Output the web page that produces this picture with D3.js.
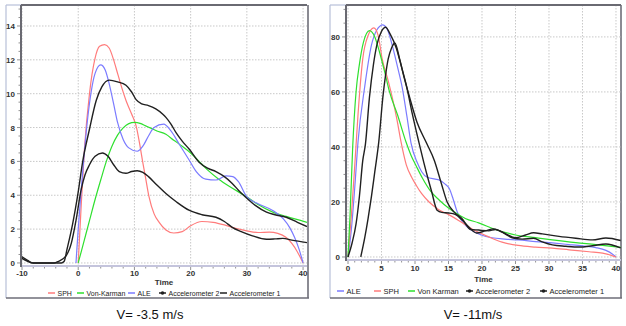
<!DOCTYPE html>
<html>
<head>
<meta charset="utf-8">
<script src="https://cdn.jsdelivr.net/npm/d3@7"></script>
<style>
  body { margin: 0; background: #fff; }
  svg { display: block; font-family: "Liberation Sans", Arial, sans-serif; }
  .grid line { stroke: #c8c8c8; stroke-dasharray: 1.5,1.5; stroke-width: 1; }
  .tick-label { font-size: 8px; font-weight: bold; fill: #333; }
  .legend text { fill: #222; }
</style>
</head>
<body>
<svg width="626" height="326"></svg>
<script>
// ---- data: V = -3.5 m/s (time, value) ----
var sph35 = [[0,0],[0.5,3.2],[1.1,6.7],[2,10],[3,12.1],[3.8,12.8],[4.7,12.9],[5.5,12.7],[6.3,12.0],[7,11.2],
  [7.8,10.3],[8.5,9.6],[9.5,8.8],[10.3,8.1],[11,6.9],[11.4,6.1],[12,5.0],[12.6,3.9],[13.5,2.9],[14.4,2.4],
  [15.6,1.95],[17,1.77],[18.5,1.85],[20,2.2],[22,2.45],[24,2.4],[26,2.25],[28,2.05],[30,1.9],[32,1.8],
  [34,1.82],[35.5,1.75],[37,1.5],[38,1.15],[39,0.65],[40,0]];
var vk35 = [[0,0],[1,1.25],[2,2.5],[3,3.75],[4,4.9],[5,6.0],[6,6.9],[7,7.55],[8,7.98],[9,8.23],[10,8.3],
  [11,8.25],[12,8.1],[13,7.95],[14,7.8],[15.6,7.6],[17,7.25],[18.5,6.9],[20,6.5],[21.5,6.0],[23,5.5],
  [25,4.95],[27,4.5],[30,3.9],[32,3.45],[34.6,3.0],[37,2.75],[40.7,2.4]];
var ale35 = [[-0.4,0],[0,2.0],[0.5,4.2],[1,6.2],[1.6,8.3],[2.3,10.1],[3,11.2],[4,11.7],[4.8,11.4],[5.5,10.6],
  [6.3,9.4],[7,8.3],[8,7.3],[9,6.8],[10.5,6.6],[11.5,6.9],[12.5,7.5],[13.5,8.0],[15.2,8.2],[16.5,7.8],
  [18,7.0],[19.7,6.1],[21,5.4],[22.7,4.95],[24.5,4.9],[26.3,5.15],[27.5,5.1],[28.5,4.8],[30,3.9],[32,3.5],
  [34.6,3.1],[36.5,2.6],[37.6,2.1],[38.5,1.5],[39.3,0.8],[40,0]];
var acc2_35 = [[-10.2,0.3],[-9,0.1],[-8.3,0],[-4.3,0],[-3.5,0.1],[-2.2,0.4],[-1.2,1.2],[-0.4,2.5],[0.5,4.3],
  [1.2,5.2],[2,5.8],[3,6.3],[4.3,6.5],[5.3,6.3],[6.3,5.8],[7.3,5.4],[8.5,5.3],[9.5,5.4],[10.5,5.45],
  [11.5,5.35],[12.5,5.1],[14,4.6],[15.6,4.1],[17.5,3.6],[19.8,3.1],[22,2.85],[24.5,2.7],[26,2.45],
  [27.4,2.1],[29,1.85],[31,1.6],[33.5,1.4],[35,1.42],[36.4,1.45],[38,1.35],[40.7,1.2]];
var acc1_35 = [[-10.2,0.4],[-9,0.15],[-8,0],[-3,0],[-2.5,0.1],[-2,0.8],[-1,2.3],[0,4.2],[0.8,6.0],[2,7.9],
  [3.2,9.6],[4.2,10.4],[5.5,10.8],[7,10.7],[8.5,10.5],[9.5,10.1],[10.3,9.65],[11.3,9.4],[12.5,9.3],
  [13.8,9.1],[15,8.8],[15.6,8.6],[16.5,8.2],[17.4,7.7],[18.5,7.2],[19.8,6.7],[21.5,5.95],[23,5.6],
  [24.5,5.4],[26,5.1],[27.4,4.7],[28.5,4.3],[29.9,3.85],[31.5,3.4],[33.5,3.0],[35,2.85],[37,2.7],
  [39,2.4],[40.7,2.15]];

// ---- data: V = -11 m/s ----
var ale11 = [[0,0],[0.5,10],[1,25],[1.5,42],[2.5,62],[3.5,77],[4.3,82.5],[5.2,84.4],[6,82],[6.7,76],
  [7.4,69],[8.1,61.5],[8.8,51],[9.4,41.5],[10.3,34.5],[11,31],[11.8,29],[13,28.3],[13.6,28],[14.5,26.5],
  [15.1,25],[15.7,21],[16.3,16.4],[17,13],[18,10.5],[19.9,8],[21.5,7],[23.4,6.5],[25.4,6.2],[28,5.6],
  [30.5,5.1],[33,4.5],[35,4.0],[37,3.4],[38.5,2.4],[39.5,1.0],[40,0]];
var sph11 = [[0,0],[0.5,15],[1,33],[1.5,52],[2.2,72],[3,80.5],[3.85,83.3],[4.5,80.5],[5.1,72],[6,64],
  [6.6,58],[7.3,50],[7.9,42],[8.7,33.5],[9.5,29],[10.2,26],[11,23],[12.1,20],[13.5,17.3],[15.1,15.3],
  [16.5,13.3],[17.6,11.6],[19,9.5],[21,7.3],[23,5.4],[25.4,4.2],[28,3.6],[30.5,3.2],[33,2.6],[36,1.9],
  [38,1.4],[39.3,0.6],[40,0]];
var vk11 = [[0,0],[0.3,15],[0.7,40],[1.2,60],[1.7,70],[2.3,78],[3.2,82.3],[4,80],[4.7,74.5],[5.5,67],
  [6.2,60],[7.4,51.6],[8.7,41.5],[9.4,37],[10.2,33],[11.1,28.7],[12.3,24],[13.6,20.7],[15,17.8],
  [16.1,16],[17.5,14],[19.5,12.4],[22,10],[25,8],[28,7],[30.5,6.2],[34,5.2],[37,4.5],[40.7,3.5]];
var acc2_11 = [[0,0],[0.6,5],[1.2,12],[1.7,22],[2.2,35],[2.6,41],[3.2,58],[3.8,70],[4.3,77],[5,82],
  [5.6,83.5],[6.3,81],[7.2,76],[8,69],[8.7,62.5],[9.6,52],[10.6,41.5],[11.3,34.5],[12,28],[12.5,23.6],
  [13.3,17],[14,16.2],[15,16],[16,15.5],[17,13.5],[18,11],[19.2,8.7],[20.5,9.5],[21.7,10.2],[23,9],
  [24.5,7],[26,6.5],[27.7,6.8],[29,5.5],[30.5,4.4],[32.5,3.9],[34.5,3.6],[36.5,4.1],[38.5,4.7],[40.7,3.3]];
var acc1_11 = [[1.9,0],[2.5,7],[3,14],[3.5,22],[4,31],[4.6,42],[5.2,58],[5.6,66],[6,72],[6.5,76],[7,77.8],
  [7.7,72],[8.4,65],[9.2,58],[10.3,49],[11.7,41.5],[12.9,35],[13.9,27],[14.8,20],[15.8,16.4],[17,14],
  [18.3,10],[19.5,9.8],[21,9.5],[22,10],[23.5,8.5],[25,7],[26.5,8.0],[27.7,8.8],[29,8.4],[31.5,7.5],
  [34,6.8],[36.5,6.2],[38.5,6.9],[40.7,6.0]];

var ticksX35 = [-10, 0, 10, 20, 30, 40],
    ticksY35 = [0, 2, 4, 6, 8, 10, 12, 14],
    ticksX11 = [0, 5, 10, 15, 20, 25, 30, 35, 40],
    ticksY11 = [0, 20, 40, 60, 80];

var RED = "#ff7b7b", GREEN = "#2ee02e", BLUE = "#7b7bff", BLACK = "#202020";

var svg = d3.select("svg");

var panels = [
  {
    frame: {left: 6, top: 5, right: 308, bottom: 298},
    plot: {left: 21, top: 5, right: 307, bottom: 266},
    xDomain: [-10.18, 40.7], yDomain: [-0.18, 15.24],
    xTicks: ticksX35, yTicks: ticksY35, xMinor: 2, yMinor: 0.5,
    xLabelY: 276, timeY: 285, legendY: 293, legendFont: 7,
    series: [
      {name: "SPH", data: sph35, color: RED, w: 1.2},
      {name: "Von-Karman", data: vk35, color: GREEN, w: 1.2},
      {name: "ALE", data: ale35, color: BLUE, w: 1.2},
      {name: "Accelerometer 2", data: acc2_35, color: BLACK, w: 1.4, dot: true},
      {name: "Accelerometer 1", data: acc1_35, color: BLACK, w: 1.4}
    ],
    legendX: [48, 77, 128, 159, 220],
    caption: "V= -3.5 m/s", captionX: 150
  },
  {
    frame: {left: 330, top: 5, right: 621, bottom: 298},
    plot: {left: 346, top: 5, right: 621, bottom: 260},
    xDomain: [-0.3, 40.75], yDomain: [-1.1, 91.6],
    xTicks: ticksX11, yTicks: ticksY11, xMinor: 1, yMinor: 5,
    xLabelY: 271, timeY: 282, legendY: 291, legendFont: 7.5,
    series: [
      {name: "ALE", data: ale11, color: BLUE, w: 1.2},
      {name: "SPH", data: sph11, color: RED, w: 1.2},
      {name: "Von Karman", data: vk11, color: GREEN, w: 1.2},
      {name: "Accelerometer 2", data: acc2_11, color: BLACK, w: 1.4, dot: true},
      {name: "Accelerometer 1", data: acc1_11, color: BLACK, w: 1.4, dot: true}
    ],
    legendX: [337, 374, 408, 466, 540],
    caption: "V= -11m/s", captionX: 473
  }
];

panels.forEach(function (p, pi) {
  var x = d3.scaleLinear().domain(p.xDomain).range([p.plot.left, p.plot.right]),
      y = d3.scaleLinear().domain(p.yDomain).range([p.plot.bottom, p.plot.top]);

  var g = svg.append("g");

  // panel frame (light left/top, dark right/bottom)
  var f = p.frame;
  g.append("rect").attr("x", f.left).attr("y", f.top)
    .attr("width", f.right - f.left).attr("height", f.bottom - f.top).attr("fill", "#fff");
  g.append("line").attr("x1", f.left).attr("x2", f.left).attr("y1", f.top).attr("y2", f.bottom)
    .attr("stroke", "#b8c0d8").attr("stroke-width", 1.2);
  g.append("line").attr("x1", f.left).attr("x2", p.plot.left).attr("y1", f.top).attr("y2", f.top)
    .attr("stroke", "#b8c0d8").attr("stroke-width", 1.2);
  g.append("line").attr("x1", f.left).attr("x2", f.right + 1).attr("y1", f.bottom).attr("y2", f.bottom)
    .attr("stroke", "#6e6e78").attr("stroke-width", 1.6);
  g.append("line").attr("x1", f.right).attr("x2", f.right).attr("y1", f.top).attr("y2", f.bottom)
    .attr("stroke", "#6e6e78").attr("stroke-width", 1.6);

  // grid
  var grid = g.append("g").attr("class", "grid");
  grid.selectAll(".gx").data(p.xTicks).enter().append("line")
    .attr("x1", function (d) { return x(d); }).attr("x2", function (d) { return x(d); })
    .attr("y1", p.plot.top).attr("y2", p.plot.bottom);
  grid.selectAll(".gy").data(p.yTicks).enter().append("line")
    .attr("x1", p.plot.left).attr("x2", p.plot.right)
    .attr("y1", function (d) { return y(d); }).attr("y2", function (d) { return y(d); });

  // clipped lines
  var clipId = "clip" + pi;
  svg.append("clipPath").attr("id", clipId).append("rect")
    .attr("x", p.plot.left).attr("y", p.plot.top)
    .attr("width", p.plot.right - p.plot.left).attr("height", p.plot.bottom - p.plot.top);

  var line = d3.line()
    .x(function (d) { return x(d[0]); })
    .y(function (d) { return y(d[1]); })
    .curve(d3.curveMonotoneX);

  g.append("g").attr("clip-path", "url(#" + clipId + ")")
    .selectAll("path").data(p.series).enter().append("path")
    .attr("fill", "none")
    .attr("stroke", function (d) { return d.color; })
    .attr("stroke-width", function (d) { return d.w; })
    .attr("d", function (d) { return line(d.data); });

  // minor + major ticks
  var xMin = d3.range(Math.ceil(p.xDomain[0] / p.xMinor) * p.xMinor, p.xDomain[1], p.xMinor);
  var yMin = d3.range(0, p.yDomain[1], p.yMinor);
  g.selectAll(".mx").data(xMin).enter().append("line")
    .attr("x1", function (d) { return x(d); }).attr("x2", function (d) { return x(d); })
    .attr("y1", p.plot.bottom).attr("y2", function (d) { return p.plot.bottom + (p.xTicks.indexOf(d) >= 0 ? 4 : 2.5); })
    .attr("stroke", "#777").attr("stroke-width", 0.8);
  g.selectAll(".my").data(yMin).enter().append("line")
    .attr("y1", function (d) { return y(d); }).attr("y2", function (d) { return y(d); })
    .attr("x1", p.plot.left).attr("x2", function (d) { return p.plot.left - (p.yTicks.indexOf(d) >= 0 ? 4 : 2.5); })
    .attr("stroke", "#777").attr("stroke-width", 0.8);

  // axis lines and plot border
  g.append("line").attr("x1", p.plot.left).attr("x2", p.plot.right)
    .attr("y1", p.plot.bottom).attr("y2", p.plot.bottom)
    .attr("stroke", "#c4c4dc").attr("stroke-width", 2);
  g.append("line").attr("x1", p.plot.left).attr("x2", p.plot.left)
    .attr("y1", p.plot.top).attr("y2", p.plot.bottom + 1)
    .attr("stroke", "#6a6a72").attr("stroke-width", 2);
  g.append("line").attr("x1", p.plot.left).attr("x2", p.plot.right)
    .attr("y1", p.plot.top).attr("y2", p.plot.top)
    .attr("stroke", "#6a6a72").attr("stroke-width", 2);

  // tick labels
  g.selectAll(".xl").data(p.xTicks).enter().append("text")
    .attr("class", "tick-label")
    .attr("x", function (d) { return x(d); }).attr("y", p.xLabelY)
    .attr("text-anchor", "middle").text(function (d) { return d; });
  g.selectAll(".yl").data(p.yTicks).enter().append("text")
    .attr("class", "tick-label")
    .attr("x", p.plot.left - 6).attr("y", function (d) { return y(d) + 3; })
    .attr("text-anchor", "end").text(function (d) { return d; });

  g.append("text").attr("class", "tick-label")
    .attr("x", (p.plot.left + p.plot.right) / 2).attr("y", p.timeY)
    .attr("text-anchor", "middle").text("Time");

  // legend
  var legend = g.append("g").attr("class", "legend");
  var rows = legend.selectAll("g").data(p.series).enter().append("g")
    .attr("transform", function (d, i) { return "translate(" + p.legendX[i] + "," + p.legendY + ")"; });
  rows.append("line").attr("x1", 0).attr("x2", 7).attr("y1", 0).attr("y2", 0)
    .attr("stroke", function (d) { return d.color; }).attr("stroke-width", 1.5);
  rows.filter(function (d) { return d.dot; }).append("circle")
    .attr("cx", 3.5).attr("cy", 0).attr("r", 1.8).attr("fill", BLACK);
  rows.append("text").attr("x", 9.5).attr("y", 2.6)
    .style("font-size", p.legendFont + "px")
    .text(function (d) { return d.name; });

  // caption
  svg.append("text").attr("x", p.captionX).attr("y", 319)
    .attr("text-anchor", "middle").style("font-size", "13px").attr("fill", "#111")
    .text(p.caption);
});
</script>
</body>
</html>
